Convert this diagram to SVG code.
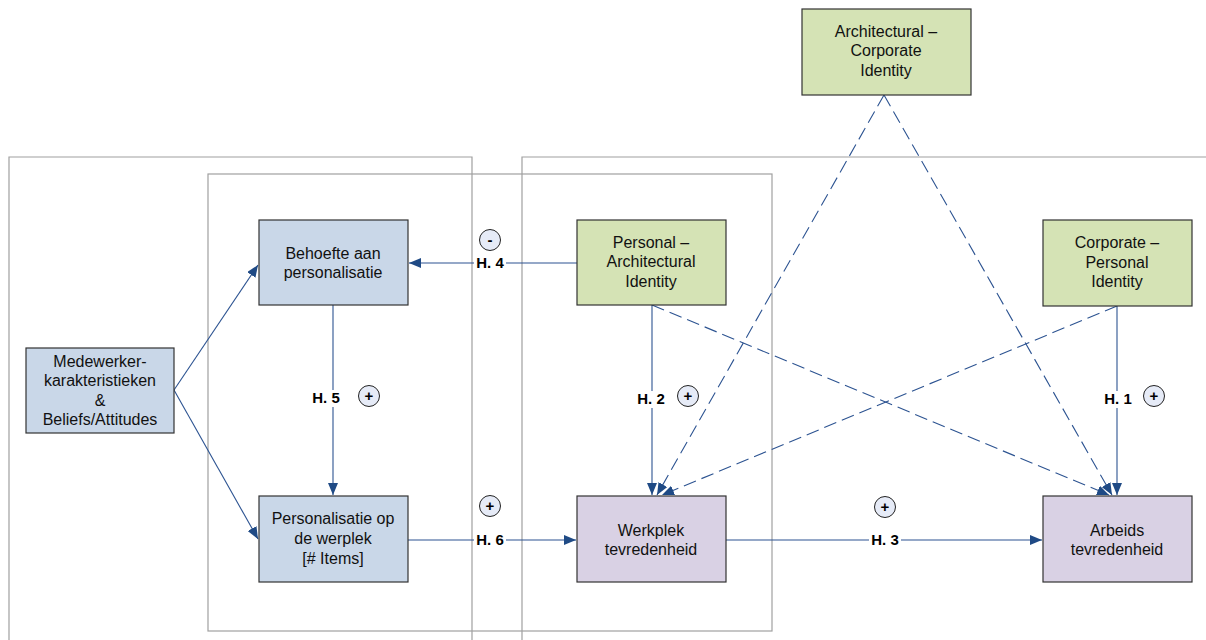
<svg xmlns="http://www.w3.org/2000/svg" width="1206" height="640" viewBox="0 0 1206 640">
<defs>
<marker id="ah" viewBox="0 0 12 10" refX="12" refY="5" markerWidth="12" markerHeight="10" markerUnits="userSpaceOnUse" orient="auto">
<path d="M0,0 L12,5 L0,10 z" fill="#1f4a85"/>
</marker>
</defs>
<style>
.frame{fill:none;stroke:#a0a0a0;stroke-width:1.2}
.node rect{stroke:#333;stroke-width:1.2}
.blue{fill:#c9d7e8}
.green{fill:#d5e3b5}
.purple{fill:#d9d1e4}
.nt{font-family:"Liberation Sans",Arial,sans-serif;font-size:16px;fill:#111;text-anchor:middle}
.conn{fill:none;stroke:#2c5391;stroke-width:1.1}
.dash{stroke-dasharray:13 6}
.lbl{font-family:"Liberation Sans",Arial,sans-serif;font-size:15px;font-weight:bold;fill:#000;text-anchor:middle}
.bg{fill:#fff}
.sg circle{fill:#e6ebf7;stroke:#222;stroke-width:1}
.sg text{font-family:"Liberation Sans",Arial,sans-serif;font-size:15px;font-weight:bold;fill:#000;text-anchor:middle}
</style>
<rect width="1206" height="640" fill="#fff"/>
<g id="frames">
<path class="frame" d="M9,645 V157 H472 V645"/>
<path class="frame" d="M522,645 V157 H1210"/>
<rect class="frame" x="208" y="174" width="564" height="457"/>
</g>
<g id="connectors">
<line class="conn" x1="174" y1="390" x2="258" y2="265" marker-end="url(#ah)"/>
<line class="conn" x1="174" y1="390" x2="258" y2="539" marker-end="url(#ah)"/>
<line class="conn" x1="577" y1="263" x2="409" y2="263" marker-end="url(#ah)"/>
<line class="conn" x1="333" y1="305" x2="333" y2="495" marker-end="url(#ah)"/>
<line class="conn" x1="408" y1="540" x2="576" y2="540" marker-end="url(#ah)"/>
<line class="conn" x1="726" y1="540" x2="1042" y2="540" marker-end="url(#ah)"/>
<line class="conn" x1="652" y1="305" x2="652" y2="495" marker-end="url(#ah)"/>
<line class="conn" x1="1117" y1="306" x2="1117" y2="495" marker-end="url(#ah)"/>
<line class="conn dash" x1="884" y1="95" x2="657" y2="495" marker-end="url(#ah)"/>
<line class="conn dash" x1="1117" y1="306" x2="662" y2="495" marker-end="url(#ah)"/>
<line class="conn dash" x1="884" y1="95" x2="1112" y2="495" marker-end="url(#ah)"/>
<line class="conn dash" x1="652" y1="305" x2="1109" y2="495" marker-end="url(#ah)"/>
<rect class="bg" x="474" y="255" width="32" height="17"/>
<text class="lbl" x="490" y="268">H. 4</text>
<rect class="bg" x="310" y="390" width="32" height="17"/>
<text class="lbl" x="326" y="403">H. 5</text>
<rect class="bg" x="474" y="532" width="32" height="17"/>
<text class="lbl" x="490" y="545">H. 6</text>
<rect class="bg" x="869" y="532" width="32" height="17"/>
<text class="lbl" x="885" y="545">H. 3</text>
<rect class="bg" x="635" y="391" width="32" height="17"/>
<text class="lbl" x="651" y="404">H. 2</text>
<rect class="bg" x="1102" y="391" width="32" height="17"/>
<text class="lbl" x="1118" y="404">H. 1</text>
<g class="sg">
<circle cx="490" cy="240" r="10.5"/><text x="490" y="245">-</text>
<circle cx="369" cy="396" r="10.5"/><text x="369" y="401">+</text>
<circle cx="490" cy="506" r="10.5"/><text x="490" y="511">+</text>
<circle cx="885" cy="507" r="10.5"/><text x="885" y="512">+</text>
<circle cx="688" cy="396" r="10.5"/><text x="688" y="401">+</text>
<circle cx="1154" cy="396" r="10.5"/><text x="1154" y="401">+</text>
</g>
</g>
<g id="n-arch-corp" class="node">
<rect class="green" x="802" y="9" width="169" height="86"/>
<text class="nt" x="886" y="37">Architectural –</text>
<text class="nt" x="886" y="56">Corporate</text>
<text class="nt" x="886" y="76">Identity</text>
</g>
<g id="n-behoefte" class="node">
<rect class="blue" x="259" y="220" width="149" height="85"/>
<text class="nt" x="333" y="259">Behoefte aan</text>
<text class="nt" x="333" y="278">personalisatie</text>
</g>
<g id="n-pers-arch" class="node">
<rect class="green" x="577" y="220" width="149" height="85"/>
<text class="nt" x="651" y="248">Personal –</text>
<text class="nt" x="651" y="267">Architectural</text>
<text class="nt" x="651" y="287">Identity</text>
</g>
<g id="n-corp-pers" class="node">
<rect class="green" x="1043" y="220" width="149" height="86"/>
<text class="nt" x="1117" y="248">Corporate –</text>
<text class="nt" x="1117" y="268">Personal</text>
<text class="nt" x="1117" y="287">Identity</text>
</g>
<g id="n-medewerker" class="node">
<rect class="blue" x="26" y="348" width="148" height="85"/>
<text class="nt" x="100" y="367">Medewerker-</text>
<text class="nt" x="100" y="386">karakteristieken</text>
<text class="nt" x="100" y="406">&amp;</text>
<text class="nt" x="100" y="425">Beliefs/Attitudes</text>
</g>
<g id="n-personalisatie" class="node">
<rect class="blue" x="259" y="496" width="149" height="86"/>
<text class="nt" x="333" y="524">Personalisatie op</text>
<text class="nt" x="333" y="544">de werplek</text>
<text class="nt" x="333" y="564">[# Items]</text>
</g>
<g id="n-werkplek" class="node">
<rect class="purple" x="577" y="496" width="149" height="86"/>
<text class="nt" x="651" y="536">Werkplek</text>
<text class="nt" x="651" y="555">tevredenheid</text>
</g>
<g id="n-arbeids" class="node">
<rect class="purple" x="1043" y="496" width="149" height="86"/>
<text class="nt" x="1117" y="536">Arbeids</text>
<text class="nt" x="1117" y="555">tevredenheid</text>
</g>
</svg>
